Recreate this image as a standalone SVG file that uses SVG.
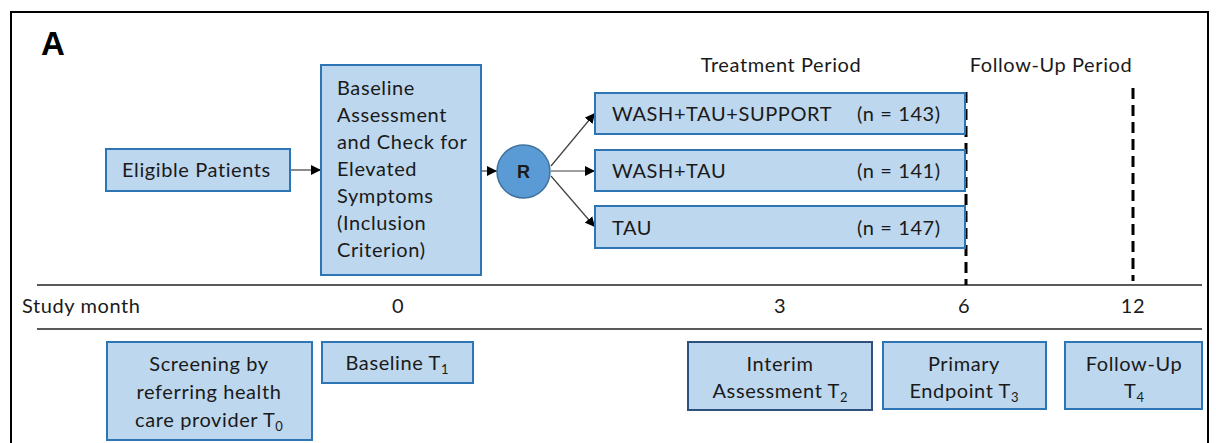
<svg xmlns="http://www.w3.org/2000/svg" width="1216" height="443" viewBox="0 0 1216 443">
  <style>
    .box { fill: #bdd7ee; stroke: #2e75b6; stroke-width: 2; }
    .box.dark { stroke: #2f4f7f; }
    .t { font-family: Lato, "Open Sans", "Liberation Sans", sans-serif; font-size: 20px; letter-spacing: 0.6px; fill: #1a1a1a; }
    .c { text-anchor: middle; }
    .sub { font-size: 13px; letter-spacing: 0; }
    .conn { stroke: #404040; stroke-width: 1.2; fill: none; }
    .rule { stroke: #222; stroke-width: 1.3; }
    .dash { stroke: #000; stroke-width: 3; stroke-dasharray: 11 6; }
  </style>
  <defs>
    <marker id="arrow" viewBox="0 0 10 10" refX="10" refY="5" markerWidth="10" markerHeight="10" markerUnits="userSpaceOnUse" orient="auto">
      <path d="M0,0 L10,5 L0,10 Z" fill="#000"/>
    </marker>
  </defs>

  <rect width="1216" height="443" fill="#fff"/>

  <!-- panel frame (open at the bottom) -->
  <path d="M11,460 L11,12 L1208,12 L1208,460" fill="none" stroke="#000" stroke-width="2"/>
  <text x="41" y="55" font-family="Liberation Sans, Arial, sans-serif" font-weight="bold" font-size="33" fill="#000">A</text>

  <!-- period headings -->
  <text class="t c" x="781" y="72">Treatment Period</text>
  <text class="t c" x="1051" y="72">Follow-Up Period</text>

  <!-- timeline rules and milestones -->
  <g id="timeline">
    <line class="rule" x1="37" y1="285" x2="1202" y2="285"/>
    <line class="rule" x1="37" y1="329" x2="1202" y2="329"/>
    <line class="dash" x1="966" y1="92" x2="966" y2="285"/>
    <line class="dash" x1="1133" y1="88" x2="1133" y2="281"/>
    <text class="t" x="22" y="313">Study month</text>
    <text class="t c" x="398" y="313">0</text>
    <text class="t c" x="780" y="313">3</text>
    <text class="t c" x="964" y="313">6</text>
    <text class="t c" x="1133" y="313">12</text>
  </g>

  <!-- connectors -->
  <g id="connectors">
    <line class="conn" x1="290" y1="170" x2="321" y2="170" marker-end="url(#arrow)"/>
    <line class="conn" x1="481" y1="171" x2="497" y2="171" marker-end="url(#arrow)"/>
    <line class="conn" x1="551" y1="166" x2="595" y2="113" marker-end="url(#arrow)"/>
    <line class="conn" x1="551" y1="171" x2="595" y2="171" marker-end="url(#arrow)"/>
    <line class="conn" x1="551" y1="176" x2="595" y2="227" marker-end="url(#arrow)"/>
  </g>

  <g id="eligible">
    <rect class="box" x="106" y="149" width="184" height="42"/>
    <text class="t" x="122" y="177">Eligible Patients</text>
  </g>

  <g id="baseline-check">
    <rect class="box" x="321" y="65" width="160" height="210"/>
    <text class="t" x="337" y="95">Baseline</text>
    <text class="t" x="337" y="122">Assessment</text>
    <text class="t" x="337" y="149">and Check for</text>
    <text class="t" x="337" y="176">Elevated</text>
    <text class="t" x="337" y="203">Symptoms</text>
    <text class="t" x="337" y="230">(Inclusion</text>
    <text class="t" x="337" y="257">Criterion)</text>
  </g>

  <g id="randomization">
    <circle cx="523.5" cy="171.5" r="26.5" fill="#5b9bd5" stroke="#41719c" stroke-width="1.5"/>
    <text x="523.5" y="178" text-anchor="middle" font-family="Liberation Sans, Arial, sans-serif" font-weight="bold" font-size="18" fill="#1a1a1a">R</text>
  </g>

  <g id="arm-wash-tau-support">
    <rect class="box" x="595" y="93" width="370" height="41"/>
    <text class="t" x="612" y="121">WASH+TAU+SUPPORT</text>
    <text class="t" x="857" y="121">(n = 143)</text>
  </g>
  <g id="arm-wash-tau">
    <rect class="box" x="595" y="150" width="370" height="41"/>
    <text class="t" x="612" y="178">WASH+TAU</text>
    <text class="t" x="857" y="178">(n = 141)</text>
  </g>
  <g id="arm-tau">
    <rect class="box" x="595" y="206" width="370" height="42"/>
    <text class="t" x="612" y="235">TAU</text>
    <text class="t" x="857" y="235">(n = 147)</text>
  </g>

  <!-- assessment time points -->
  <g id="t0-screening">
    <rect class="box" x="107" y="342" width="205" height="98"/>
    <text class="t c" x="209" y="371">Screening by</text>
    <text class="t c" x="209" y="399">referring health</text>
    <text class="t c" x="209" y="427">care provider T<tspan class="sub" dy="4">0</tspan></text>
  </g>
  <g id="t1-baseline">
    <rect class="box" x="322" y="342" width="151" height="41"/>
    <text class="t c" x="397" y="370">Baseline T<tspan class="sub" dy="4">1</tspan></text>
  </g>
  <g id="t2-interim">
    <rect class="box dark" x="688" y="342" width="184" height="68"/>
    <text class="t c" x="780" y="371">Interim</text>
    <text class="t c" x="780" y="398">Assessment T<tspan class="sub" dy="4">2</tspan></text>
  </g>
  <g id="t3-primary">
    <rect class="box" x="883" y="342" width="163" height="67"/>
    <text class="t c" x="964" y="371">Primary</text>
    <text class="t c" x="964" y="398">Endpoint T<tspan class="sub" dy="4">3</tspan></text>
  </g>
  <g id="t4-follow-up">
    <rect class="box" x="1065" y="342" width="137" height="67"/>
    <text class="t c" x="1134" y="371">Follow-Up</text>
    <text class="t c" x="1134" y="398">T<tspan class="sub" dy="4">4</tspan></text>
  </g>
</svg>
